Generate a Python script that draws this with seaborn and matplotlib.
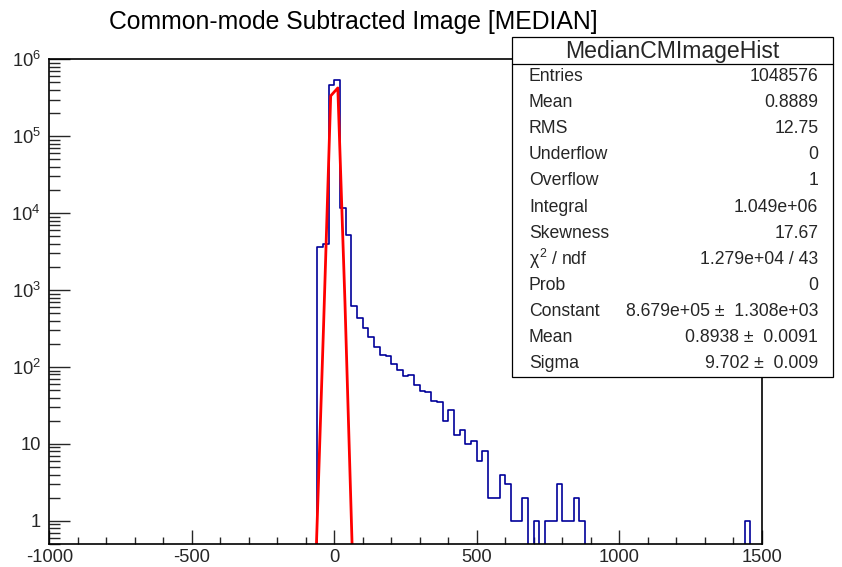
import numpy as np
import pandas as pd
import matplotlib
matplotlib.use("Agg")
import matplotlib.pyplot as plt
from matplotlib.patches import Rectangle
from matplotlib.lines import Line2D
from matplotlib.ticker import MultipleLocator, FixedLocator, FixedFormatter, NullFormatter
import seaborn as sns

# ---------------- data ----------------
x_min, x_max, bin_width = -1000, 1500, 20          # histogram definition: 125 bins
# lower edge of every non-empty bin and its content
bin_low = [-60, -40, -20, 0, 20, 40, 60, 80, 100, 120, 140, 160, 180, 200, 220,
           240, 260, 280, 300, 320, 340, 360, 380, 400, 420, 440, 460, 480, 500,
           520, 540, 560, 580, 600, 620, 640, 660, 700, 740, 760, 780, 800, 820,
           840, 860, 1440]
bin_count = [3590, 4000, 460000, 545000, 11750, 5190, 620, 433, 323, 243, 181,
             143, 139, 108, 91, 77, 79, 59, 49, 47, 36, 35, 20, 28, 13, 15, 10,
             11, 6, 8, 2, 2, 4, 3, 1, 1, 2, 1, 1, 1, 3, 1, 1, 2, 1, 1]

# fitted gaussian as drawn by ROOT (sample points of the drawn curve)
fit_x = [-62.5, -37.5, -12.5, 12.5, 37.5, 62.5]
fit_y = [0.5, 345, 334700, 424400, 703, 0.5]

y_min, y_max = 0.5, 1e6
y_major = [1, 10, 100, 1000, 10000, 100000, 1000000]
y_labels = ["1", "10", r"$10^{2}$", r"$10^{3}$", r"$10^{4}$", r"$10^{5}$", r"$10^{6}$"]

title = "Common-mode Subtracted Image [MEDIAN]"
stats_name = "MedianCMImageHist"
stats_keys = ["Entries", "Mean", "RMS", "Underflow", "Overflow", "Integral",
              "Skewness", r"$\chi^{2}$ / ndf", "Prob", "Constant", "Mean", "Sigma"]
stats_vals = ["1048576", "0.8889", "12.75", "0", "1", "1.049e+06", "17.67",
              "1.279e+04 / 43", "0", "8.679e+05 \u00b1  1.308e+03",
              "0.8938 \u00b1  0.0091", "9.702 \u00b1  0.009"]

# ---------------- style ----------------
sns.set_style("ticks")
plt.rcParams["font.family"] = ["Liberation Sans", "DejaVu Sans"]
plt.rcParams["axes.unicode_minus"] = False
plt.rcParams["mathtext.fontset"] = "custom"
plt.rcParams["mathtext.rm"] = "Liberation Sans"
plt.rcParams["mathtext.it"] = "Liberation Sans"
plt.rcParams["mathtext.bf"] = "Liberation Sans:bold"

W, H = 842, 567
fig = plt.figure(figsize=(W / 100, H / 100), dpi=100)
fig.patch.set_facecolor("white")

def fx(p):
    return p / W

def fy(p):
    return 1 - p / H

ax_l, ax_r, ax_t, ax_b = 49.3, 761.7, 59.3, 544.0
ax = fig.add_axes([fx(ax_l), fy(ax_b), fx(ax_r - ax_l), (ax_b - ax_t) / H])
ax.set_facecolor("white")

edges = [float(e) for e in np.arange(x_min, x_max + bin_width, bin_width)]
df = pd.DataFrame({"x": [b + bin_width / 2 for b in bin_low],
                   "w": [float(c) for c in bin_count]})

sns.histplot(data=df, x="x", weights="w", bins=edges, common_bins=False,
             element="step", fill=False, color="#000099", linewidth=1.2, ax=ax)
sns.lineplot(x=fit_x, y=fit_y, color="#ff0000", linewidth=2.0, sort=False, ax=ax)

ax.set_yscale("log", nonpositive="clip")
ax.set_xlim(x_min, x_max)
ax.set_ylim(y_min, y_max)
ax.set_xlabel("")
ax.set_ylabel("")

for s in ax.spines.values():
    s.set_visible(True)
    s.set_color("black")
    s.set_linewidth(1.2)

ax.xaxis.set_major_locator(MultipleLocator(500))
ax.xaxis.set_minor_locator(MultipleLocator(100))
ax.yaxis.set_major_locator(FixedLocator(y_major))
ax.yaxis.set_major_formatter(FixedFormatter(y_labels))
minor_y = [m * 10.0 ** e for e in range(-1, 6) for m in range(2, 10)]
ax.yaxis.set_minor_locator(FixedLocator(minor_y))
ax.yaxis.set_minor_formatter(NullFormatter())

ax.tick_params(axis="x", which="major", direction="in", length=10, width=1,
               labelsize=13.2, pad=3.5, top=False, bottom=True)
ax.tick_params(axis="x", which="minor", direction="in", length=5, width=1,
               top=False, bottom=True)
ax.tick_params(axis="y", which="major", direction="in", length=15, width=1,
               labelsize=13.2, pad=6, left=True, right=False)
ax.tick_params(axis="y", which="minor", direction="in", length=8, width=1,
               left=True, right=False)
ax.grid(False)

# ---------------- title ----------------
fig.text(fx(353.5), fy(29.3), title, ha="center", va="baseline", fontsize=17.8,
         color="black")

# ---------------- stats box ----------------
bx_l, bx_r, bx_t, bx_b = 511.7, 832.7, 36.7, 376.7
sep = 63.5
fig.patches.append(Rectangle((fx(bx_l), fy(bx_b)), fx(bx_r - bx_l), (bx_b - bx_t) / H,
                             transform=fig.transFigure, facecolor="white",
                             edgecolor="black", linewidth=0.9, zorder=5))
fig.lines.append(Line2D([fx(bx_l), fx(bx_r)], [fy(sep), fy(sep)],
                        transform=fig.transFigure, color="black", linewidth=0.9,
                        zorder=6))
fig.text(fx((bx_l + bx_r) / 2), fy((bx_t + sep) / 2 + 1), stats_name, ha="center",
         va="center", fontsize=16.6, zorder=7)
row_h = (bx_b - sep) / len(stats_keys)
for i, (k, v) in enumerate(zip(stats_keys, stats_vals)):
    yc = sep + row_h * (i + 0.5)
    fig.text(fx(529), fy(yc), k, ha="left", va="center", fontsize=12.7, zorder=7)
    fig.text(fx(818.3), fy(yc), v, ha="right", va="center", fontsize=12.7, zorder=7)

fig.savefig("out.png", dpi=100, facecolor="white")
